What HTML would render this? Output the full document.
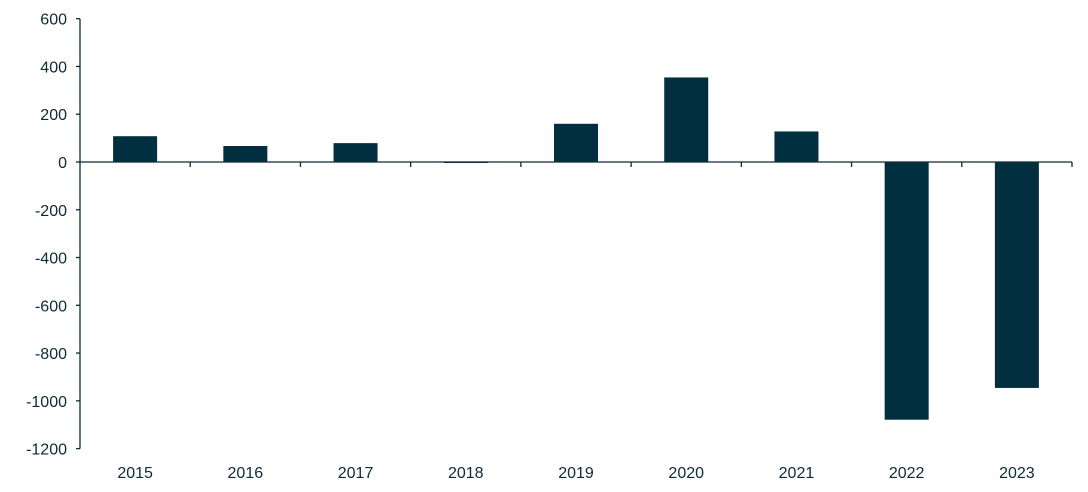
<!DOCTYPE html>
<html><head><meta charset="utf-8"><style>
html,body{margin:0;padding:0;background:#fff;}
svg text{font-family:"Liberation Sans",Arial,sans-serif;font-size:16px;fill:#0d2a35;}
</style></head><body>
<svg id="chart" width="1088" height="487" xmlns="http://www.w3.org/2000/svg"></svg>
<script>
const categories=["2015","2016","2017","2018","2019","2020","2021","2022","2023"];
const values=[108,67,79,-4,160,354,128,-1079,-946];
const yTicks=[600,400,200,0,-200,-400,-600,-800,-1000,-1200];
const svg=document.getElementById('chart');
const NS='http://www.w3.org/2000/svg';
const x0=80,x1=1072,yTop=18.7,yBot=448.6,vMax=600,vMin=-1200;
const y=v=>yTop+(vMax-v)/(vMax-vMin)*(yBot-yTop);
const bw=(x1-x0)/categories.length;
const xc=i=>x0+bw*(i+0.5);
function mk(t,a){const e=document.createElementNS(NS,t);for(const k in a)e.setAttribute(k,a[k]);svg.appendChild(e);return e;}
values.forEach((v,i)=>{
  const r=mk('rect',{x:xc(i)-22,y:Math.min(y(v),y(0)),width:44,height:Math.max(1,Math.abs(y(v)-y(0))),fill:'#022f3f'});
  
  
});
const ya=mk('line',{x1:x0,x2:x0,y1:yTop,y2:yBot,stroke:'#0d2a35','stroke-width':1.3});


yTicks.forEach(t=>{
  mk('line',{x1:x0-4,x2:x0,y1:y(t),y2:y(t),stroke:'#0d2a35','stroke-width':1.3});
  const tx=mk('text',{x:x0-13,y:y(t)+6,'text-anchor':'end'});
  tx.textContent=t;
  
  
});
const xa=mk('line',{x1:x0,x2:x1,y1:y(0),y2:y(0),stroke:'#0d2a35','stroke-width':1.3});


for(let i=1;i<=categories.length;i++){
  mk('line',{x1:x0+bw*i,x2:x0+bw*i,y1:y(0),y2:y(0)+5,stroke:'#0d2a35','stroke-width':1.3});
}
categories.forEach((c,i)=>{
  const tx=mk('text',{x:xc(i),y:478,'text-anchor':'middle'});
  tx.textContent=c;
  
  
});
</script>
</body></html>
